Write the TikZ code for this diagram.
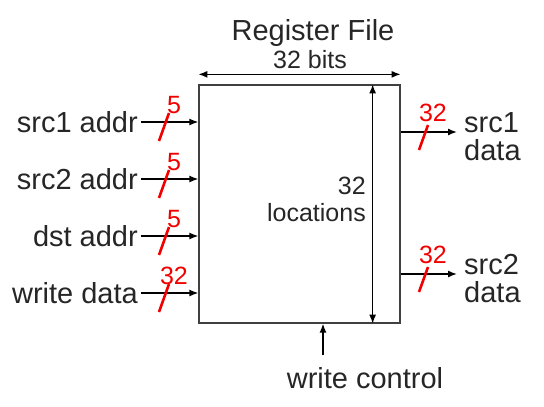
\documentclass[tikz,border=0pt]{standalone}
\usepackage{fontspec}
\setmainfont{Liberation Sans}
\usepackage{tikz}
\usetikzlibrary{arrows.meta, positioning, calc}

\begin{document}
\begin{tikzpicture}[x=1pt, y=-1pt,
    txt/.style={font=\fontsize{29}{28}\selectfont, text=black!85, inner sep=3pt},
    small/.style={font=\fontsize{25}{27}\selectfont, text=black!85, inner sep=0pt},
    bw/.style={font=\fontsize{25}{25}\selectfont, text=red!95!black, inner sep=0pt},
    wire/.style={line width=1.4pt, -{Latex[length=9pt,width=7pt]}},
    dim/.style={line width=1.4pt, {Latex[length=9pt,width=7pt]}-{Latex[length=9pt,width=7pt]}},
    slash/.style={red!95!black, line width=2.6pt}
]
    \useasboundingbox (0,0) rectangle (544,407);

    % register file box
    \node[draw=black!75, line width=1.3pt, minimum width=201pt, minimum height=238pt, inner sep=0pt] (rf) at (299.5,204) {};

    \node[txt] (title) at (313,33) {Register File};
    \node[small] (bits) at (310,60) {32 bits};
    \draw[dim] ([yshift=10pt]rf.north west) -- ([yshift=10pt]rf.north east);

    \draw[dim] ([xshift=-28pt]rf.north east) -- ([xshift=-28pt]rf.south east);
    \node[small, anchor=east, align=right] (loc) at (366,199) {32\\locations};

    % inputs
    \foreach \nm/\lbl/\yy/\n in {sa/src1 addr/122/5, sb/src2 addr/179/5, da/dst addr/236/5, wd/write data/293/32} {
        \node[txt, anchor=east] (\nm) at (141,\yy) {\lbl};
        \draw[wire] (\nm.east) -- (\nm.east -| rf.west);
        \draw[slash] (159,\yy+19) -- (169,\yy-9);
        \node[bw] (\nm-w) at (174,\yy-17) {\n};
    }

    % outputs
    \foreach \nm/\lbl/\yy in {ra/src1/132, rb/src2/274} {
        \coordinate (\nm-o) at (457,\yy);
        \draw[wire] (\nm-o -| rf.east) -- (\nm-o);
        \draw[slash] (419,\yy+18) -- (428,\yy-7);
        \node[bw] (\nm-w) at (433,\yy-19) {32};
        \node[txt, anchor=west, align=left] (\nm) at (461,\yy+5) {\lbl\\data};
    }

    % write control
    \node[txt] (wc) at (365,378) {write control};
    \coordinate (wcin) at (323,355);
    \draw[wire] (wcin) -- (wcin |- rf.south);
\end{tikzpicture}
\end{document}
